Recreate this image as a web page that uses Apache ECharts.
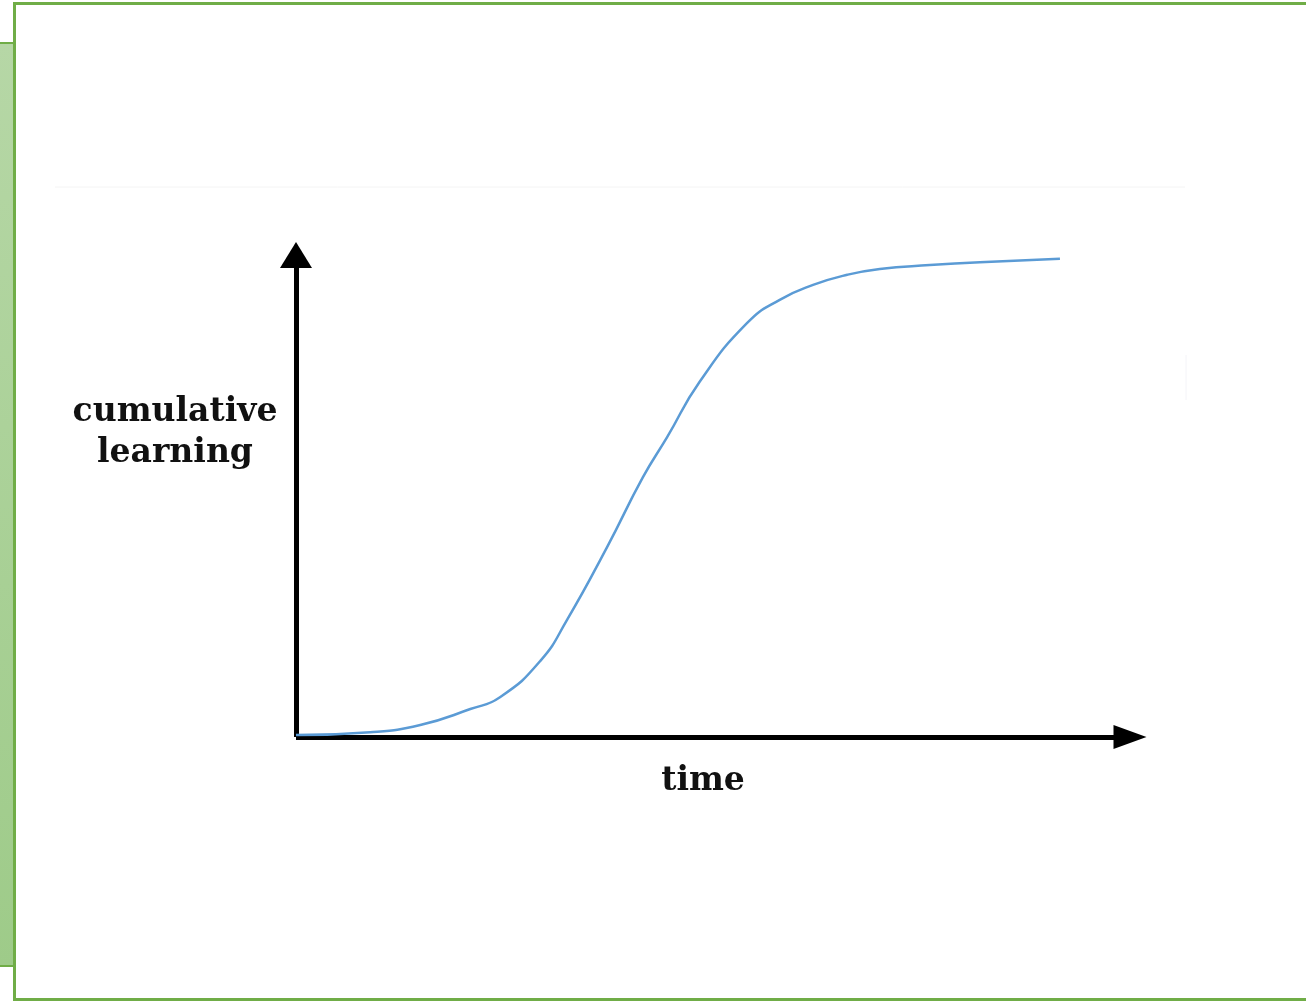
<!DOCTYPE html>
<html>
<head>
<meta charset="utf-8">
<script src="https://cdn.jsdelivr.net/npm/echarts@6/dist/echarts.min.js"></script>
<style>
  html, body { margin: 0; padding: 0; background: #fff; }
  #chart { width: 1306px; height: 1002px; }
</style>
</head>
<body>
<div id="chart"></div>
<script>
// time axis units (0..10), learning in percent of the axis (0..100)
var timeValues = [0, 0.89, 1.49, 2.09, 2.45, 2.93, 3.25, 3.73, 4.16, 4.45, 4.84, 5.41, 5.80, 6.20, 6.61, 7.00, 7.60, 8.20, 9.16];
var learningValues = [0.4, 1.0, 2.5, 5.8, 8.3, 15.8, 24.3, 39.4, 53.9, 62.2, 73.7, 85.9, 90.7, 93.8, 95.9, 97.1, 97.9, 98.5, 99.2];
var yLabel = 'cumulative\nlearning';
var xLabel = 'time';

var points = timeValues.map(function (t, i) { return [t, learningValues[i]]; });

var myChart = echarts.init(document.getElementById('chart'));
var option = {
  backgroundColor: '#fff',
  animation: false,
  graphic: [
    // left green band
    {
      type: 'rect', z: 0,
      shape: { x: -3, y: 43, width: 18, height: 923 },
      style: {
        fill: new echarts.graphic.LinearGradient(0, 0, 0, 1, [
          { offset: 0, color: '#b6d7a6' },
          { offset: 1, color: '#9ecb89' }
        ]),
        stroke: '#70ad47', lineWidth: 2
      }
    },
    // main panel
    {
      type: 'rect', z: 1,
      shape: { x: 14.5, y: 3.5, width: 1400, height: 996 },
      style: { fill: '#fff', stroke: '#70ad47', lineWidth: 3 }
    },
    // faint leftover lines of the original picture
    {
      type: 'line', z: 2,
      shape: { x1: 55, y1: 187, x2: 1185, y2: 187 },
      style: { stroke: '#f4f4f4', lineWidth: 1 }
    },
    {
      type: 'line', z: 2,
      shape: { x1: 1186, y1: 355, x2: 1186, y2: 400 },
      style: { stroke: '#f4f4f8', lineWidth: 1 }
    },
    {
      type: 'text', z: 5,
      style: {
        x: 175, y: 433, text: yLabel,
        font: 'bold 33px "DejaVu Serif"', fill: '#111',
        align: 'center', verticalAlign: 'middle', lineHeight: 41
      }
    },
    {
      type: 'text', z: 5,
      style: {
        x: 703, y: 781, text: xLabel,
        font: 'bold 33px "DejaVu Serif"', fill: '#111',
        align: 'center', verticalAlign: 'middle'
      }
    }
  ],
  grid: { left: 296, top: 255, width: 834, height: 482 },
  xAxis: {
    type: 'value', min: 0, max: 10, z: 3,
    axisLine: {
      show: true, onZero: false,
      symbol: ['none', 'triangle'], symbolSize: [24, 33],
      lineStyle: { color: '#000', width: 5, cap: 'butt' }
    },
    axisTick: { show: false },
    axisLabel: { show: false },
    splitLine: { show: false }
  },
  yAxis: {
    type: 'value', min: 0, max: 100, z: 3,
    axisLine: {
      show: true, onZero: false,
      symbol: ['none', 'triangle'], symbolSize: [32, 26],
      lineStyle: { color: '#000', width: 5, cap: 'butt' }
    },
    axisTick: { show: false },
    axisLabel: { show: false },
    splitLine: { show: false }
  },
  series: [{
    type: 'line',
    data: points,
    smooth: 0.5,
    showSymbol: false,
    z: 4,
    lineStyle: { color: '#5b9bd5', width: 2.5 }
  }]
};
myChart.setOption(option);
</script>
</body>
</html>
